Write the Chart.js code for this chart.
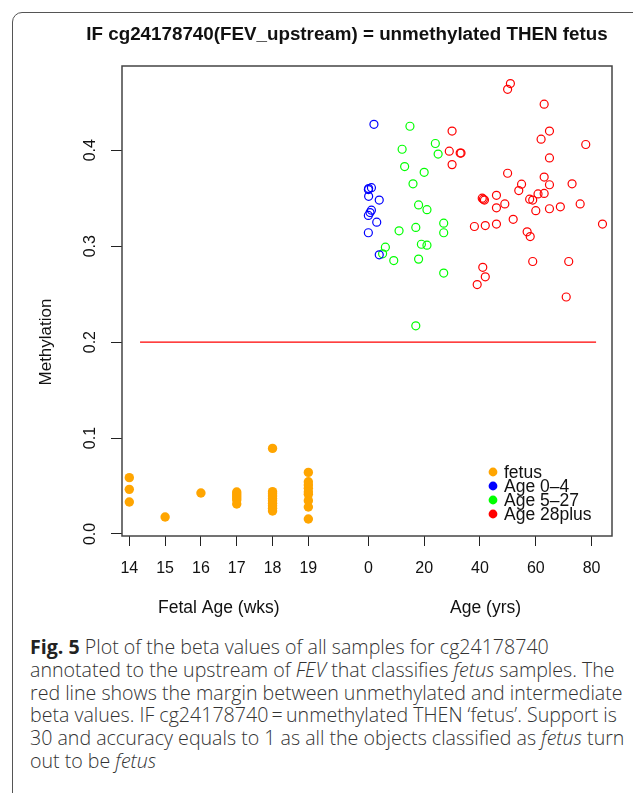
<!DOCTYPE html>
<html>
<head>
<meta charset="utf-8">
<script src="https://cdn.jsdelivr.net/npm/chart.js@4.4.1/dist/chart.umd.min.js"></script>
<style>
  body { margin: 0; background: #fff; width: 633px; height: 793px; overflow: hidden; position: relative; }
  #frame { position: absolute; left: 12px; top: 12px; width: 640px; height: 800px; border: 1.5px solid #555; border-radius: 10px; box-sizing: border-box; }
  #plot { position: absolute; left: 0; top: 0; }
  #caption { position: absolute; left: 30px; top: 636px; font-family: 'Open Sans'; font-weight: 300; font-size: 19.6px; line-height: 22.8px; color: #333; white-space: nowrap; }
  #caption b { font-weight: 700; color: #222; }
</style>
</head>
<body>
<div id="frame"></div>
<canvas id="plot" width="633" height="630"></canvas>
<div id="caption">
<b>Fig. 5</b> Plot of the beta values of all samples for cg24178740<br>
annotated to the upstream of <i>FEV</i> that classifies <i>fetus</i> samples. The<br>
red line shows the margin between unmethylated and intermediate<br>
beta values. IF cg24178740&thinsp;=&thinsp;unmethylated THEN ‘fetus’. Support is<br>
30 and accuracy equals to 1 as all the objects classified as <i>fetus</i> turn<br>
out to be <i>fetus</i>
</div>
<script>
// fetal samples: gestational week and beta value
const fetalWeeks = [14, 14, 14, 15, 16,
  17, 17, 17, 17, 17, 17,
  18, 18, 18, 18, 18, 18, 18, 18, 18, 18,
  19, 19, 19, 19, 19, 19, 19, 19, 19];
const fetalMethyl = [0.0587, 0.0465, 0.0333, 0.0177, 0.0427,
  0.0438, 0.0417, 0.0396, 0.0375, 0.0354, 0.0313,
  0.0892, 0.0441, 0.0420, 0.0396, 0.0370, 0.0347, 0.0320, 0.0295, 0.0268, 0.0240,
  0.0642, 0.0545, 0.0510, 0.0476, 0.0440, 0.0413, 0.0347, 0.0281, 0.0156];

// postnatal samples: age in years and beta value
const age0to4Years = [2.0, 0.1, 1.1, 0.0, 0.1, 3.9, 1.1, 0.6, 0.0, 3.0, 0.0, 3.9];
const age0to4Methyl = [0.427, 0.360, 0.361, 0.359, 0.352, 0.348, 0.3375, 0.335, 0.332, 0.325, 0.314, 0.291];

const age5to27Years = [14.9, 24.0, 12.1, 25.0, 13.0, 20.0, 16.0, 18.0, 21.0, 27.0, 17.0,
  11.0, 27.0, 19.0, 21.0, 6.1, 5.1, 9.1, 18.0, 27.0, 17.0];
const age5to27Methyl = [0.425, 0.407, 0.401, 0.396, 0.383, 0.377, 0.365, 0.343, 0.338, 0.324, 0.3195,
  0.316, 0.314, 0.302, 0.301, 0.299, 0.292, 0.285, 0.2865, 0.272, 0.217];

const age28plusYears = [30.0, 29.0, 32.9, 33.2, 30.0, 50.9, 49.9, 63.0, 64.9, 61.9, 77.9, 64.9,
  49.9, 63.0, 64.9, 54.9, 73.0, 53.9, 60.8, 63.0, 45.9, 57.8, 58.9, 40.8, 41.6, 41.2,
  48.9, 45.9, 75.9, 60.0, 64.9, 68.8, 51.9, 45.9, 41.9, 38.0, 83.9, 56.9, 58.0,
  58.9, 71.8, 41.0, 41.9, 39.0, 70.9];
const age28plusMethyl = [0.420, 0.399, 0.397, 0.397, 0.385, 0.4695, 0.4635, 0.448, 0.420, 0.4115, 0.406, 0.392,
  0.376, 0.372, 0.364, 0.3646, 0.365, 0.358, 0.3545, 0.355, 0.353, 0.349, 0.348, 0.350, 0.348, 0.349,
  0.344, 0.340, 0.344, 0.337, 0.339, 0.341, 0.328, 0.323, 0.3215, 0.3205, 0.323, 0.315, 0.310,
  0.284, 0.284, 0.278, 0.268, 0.260, 0.247];

const weekTicks = [14, 15, 16, 17, 18, 19];
const ageTicks = [0, 20, 40, 60, 80];
const methylTicks = [0, 0.1, 0.2, 0.3, 0.4];

// margin between unmethylated and intermediate
const thresholdValue = 0.2;
const thresholdFromWeek = 14.3;
const thresholdToAge = 81.6;

// weeks and years share one axis: years are squeezed to the right of week 19
const AGE_ZERO = 20.676;
const AGE_UNIT = 0.07793;
function ageToX(a) {
  return AGE_ZERO + a * AGE_UNIT;
}

function toPoints(xs, ys, fx) {
  return xs.map((v, i) => ({ x: fx ? fx(v) : v, y: ys[i] }));
}

const tickValues = weekTicks.concat(ageTicks.map(ageToX));
const tickText = weekTicks.concat(ageTicks).map(String);

const legendItems = [
  { label: 'fetus', color: '#FFA500' },
  { label: 'Age 0\u20134', color: '#0000FF' },
  { label: 'Age 5\u201327', color: '#00FF00' },
  { label: 'Age 28plus', color: '#FF0000' }
];

function openCircles(data, color) {
  return {
    data: data,
    pointRadius: 4,
    pointBorderWidth: 1.2,
    borderColor: color,
    backgroundColor: 'rgba(0,0,0,0)',
    showLine: false
  };
}

// R-style decorations: box, rotated y labels, axis titles, legend, title
const rChrome = {
  id: 'rChrome',
  afterDraw(chart) {
    const { ctx, chartArea: a, scales: { x, y } } = chart;
    ctx.save();
    ctx.strokeStyle = '#444';
    ctx.lineWidth = 1.5;
    ctx.strokeRect(a.left, a.top, a.right - a.left, a.bottom - a.top);

    ctx.fillStyle = '#111';
    ctx.textAlign = 'center';
    ctx.textBaseline = 'middle';
    ctx.font = '16px "Liberation Sans"';
    y.ticks.forEach(t => {
      ctx.save();
      ctx.translate(a.left - 31, y.getPixelForValue(t.value));
      ctx.rotate(-Math.PI / 2);
      ctx.fillText(t.value.toFixed(1), 0, 0);
      ctx.restore();
    });

    ctx.font = '17px "Liberation Sans"';
    ctx.save();
    ctx.translate(46, 342);
    ctx.rotate(-Math.PI / 2);
    ctx.fillText('Methylation', 0, 0);
    ctx.restore();

    ctx.font = '17.5px "Liberation Sans"';
    ctx.fillText('Fetal Age (wks)', x.getPixelForValue(16.5), a.bottom + 72);
    ctx.fillText('Age (yrs)', x.getPixelForValue(ageToX(42)), a.bottom + 72);

    ctx.font = 'bold 18.8px "Liberation Sans"';
    ctx.fillText('IF cg24178740(FEV_upstream) = unmethylated THEN fetus', 347, 35);

    // legend in the lower right corner of the plot
    ctx.font = '17.5px "Liberation Sans"';
    ctx.textAlign = 'left';
    legendItems.forEach((item, i) => {
      const ly = a.bottom - 64 + i * 14;
      ctx.fillStyle = item.color;
      ctx.beginPath();
      ctx.arc(a.right - 119, ly, 4.4, 0, Math.PI * 2);
      ctx.fill();
      ctx.fillStyle = '#111';
      ctx.fillText(item.label, a.right - 108, ly + 1);
    });
    ctx.restore();
  }
};

const ctx = document.getElementById('plot').getContext('2d');
const chart = new Chart(ctx, {
  type: 'scatter',
  data: {
    datasets: [
      {
        type: 'line',
        data: [{ x: thresholdFromWeek, y: thresholdValue }, { x: ageToX(thresholdToAge), y: thresholdValue }],
        borderColor: '#FF0000',
        borderWidth: 1.2,
        pointRadius: 0
      },
      {
        data: toPoints(fetalWeeks, fetalMethyl),
        pointRadius: 4.7,
        pointBorderWidth: 0,
        backgroundColor: '#FFA500',
        borderColor: '#FFA500'
      },
      openCircles(toPoints(age0to4Years, age0to4Methyl, ageToX), '#0000FF'),
      openCircles(toPoints(age5to27Years, age5to27Methyl, ageToX), '#00FF00'),
      openCircles(toPoints(age28plusYears, age28plusMethyl, ageToX), '#FF0000')
    ]
  },
  options: {
    responsive: false,
    animation: false,
    events: [],
    layout: { padding: { left: 0, right: 21, top: 66, bottom: 0 } },
    plugins: { legend: { display: false }, tooltip: { enabled: false } },
    scales: {
      x: {
        type: 'linear',
        min: 13.796,
        max: 27.48,
        afterFit: s => { s.height = 94; },
        afterBuildTicks: s => { s.ticks = tickValues.map(v => ({ value: v })); },
        border: { display: false },
        grid: { drawOnChartArea: false, drawTicks: true, tickLength: 10, color: '#222', lineWidth: 1 },
        ticks: {
          autoSkip: false,
          maxRotation: 0,
          padding: 13,
          color: '#111',
          font: { family: 'Liberation Sans', size: 16 },
          callback: (v, i) => tickText[i]
        }
      },
      y: {
        min: -0.0021,
        max: 0.4878,
        afterFit: s => { s.width = 122; },
        afterBuildTicks: s => { s.ticks = methylTicks.map(v => ({ value: v })); },
        border: { display: false },
        grid: { drawOnChartArea: false, drawTicks: true, tickLength: 11, color: '#222', lineWidth: 1 },
        ticks: { display: false }
      }
    }
  },
  plugins: [rChrome]
});
</script>
</body>
</html>
